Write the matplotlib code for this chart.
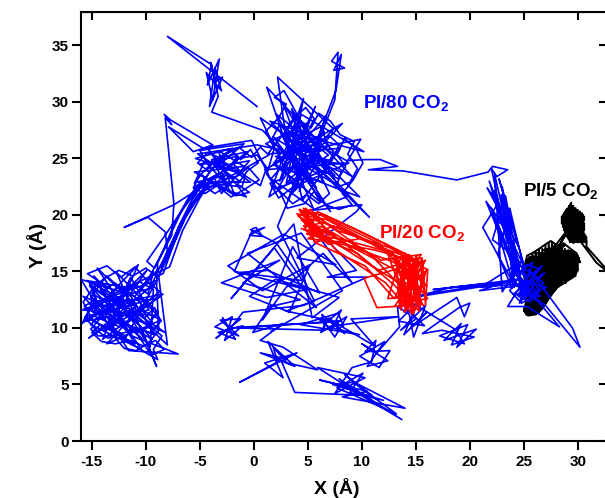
import matplotlib
matplotlib.use("Agg")
import matplotlib.pyplot as plt
import numpy as np

plt.rcParams["font.family"] = ["Liberation Sans", "DejaVu Sans"]
plt.rcParams["font.weight"] = "bold"
plt.rcParams["axes.unicode_minus"] = False
plt.rcParams["mathtext.fontset"] = "custom"
plt.rcParams["mathtext.rm"] = "Liberation Sans:bold"
plt.rcParams["mathtext.bf"] = "Liberation Sans:bold"
plt.rcParams["mathtext.default"] = "bf"

# ---------------------------------------------------------------------------
# CO2 centre-of-mass trajectories (x, y in Angstrom), one path per loading
# ---------------------------------------------------------------------------

# PI/80 CO2 -- long diffusive walk, stored leg by leg in visiting order
PI80_START = [(0.3, 29.6), (-8.0, 35.8), (-3.9, 33.3), (-4.3, 31.5), (-3.2, 33.8), (-3.8, 30.2),
              (-4.4, 32.6), (-3.0, 31.0), (-3.6, 33.0), (-4.1, 29.6), (-2.9, 32.2), (-3.5, 31.8),
              (-4.0, 33.5), (-3.3, 30.5), (-3.9, 29.1), (0.8, 27.5)]
PI80_TOP_A = [(5.8, 22.4), (2.1, 28.9), (6.9, 25.3), (1.4, 21.6), (4.6, 30.3), (3.0, 22.8), (8.2, 28.1),
              (1.9, 24.6), (6.2, 21.1), (2.5, 27.2), (9.1, 23.4), (1.2, 31.3), (3.8, 24.0), (7.4, 27.6),
              (2.2, 32.2), (3.1, 26.0), (5.5, 20.6), (1.6, 23.2), (6.7, 28.8), (4.2, 22.1), (7.5, 30.2),
              (7.8, 34.4), (7.2, 33.6), (8.4, 33.0), (7.4, 32.8), (8.1, 34.2), (7.6, 31.0), (6.0, 27.0),
              (2.8, 25.1), (5.1, 28.2), (1.1, 26.3), (7.8, 22.6), (3.5, 29.4), (4.9, 23.5)]
PI80_TOP_WALK_1 = [(3.4, 21.8), (4.6, 22.9), (3.9, 24.2), (5.2, 23.6), (6.1, 24.9), (5.0, 26.0), (6.3, 26.7),
                   (7.4, 25.6), (6.8, 24.3), (8.1, 23.8), (7.6, 22.4), (8.9, 22.9), (9.6, 24.1), (8.7, 25.4),
                   (9.3, 26.5), (8.0, 27.1), (7.1, 28.3), (6.0, 29.0), (5.3, 27.7), (4.2, 28.4), (3.3, 27.1),
                   (2.4, 28.0), (1.6, 26.6), (2.7, 25.7), (1.8, 24.5), (3.0, 23.6), (2.2, 22.3), (3.6, 21.0),
                   (4.9, 21.8), (6.0, 21.0), (7.0, 21.9), (6.4, 23.1), (5.5, 24.4), (4.4, 25.2), (3.5, 26.2),
                   (4.6, 27.0), (5.8, 26.4), (7.0, 27.0), (7.9, 26.2), (7.2, 24.8)]
PI80_UL_A = [(0.3, 26.2), (-5.2, 25.4), (-1.3, 23.0), (-4.8, 22.4), (-0.6, 25.6), (-3.9, 24.9),
             (-2.2, 22.1), (-5.5, 23.8), (-0.9, 24.3), (-3.3, 25.7), (-1.8, 21.8), (-4.6, 23.3)]
PI80_BAND_A = [(-4.5, 22.5), (-6.3, 19.8), (-7.9, 16.4), (-9.0, 14.2)]
PI80_LEFT_A = [(-10.2, 13.8), (-15.2, 12.1), (-9.4, 9.0), (-14.8, 14.6), (-11.0, 8.6), (-15.6, 11.0),
               (-8.8, 12.7), (-13.9, 9.7), (-9.9, 15.1), (-15.1, 10.3), (-10.4, 8.1), (-14.2, 13.4),
               (-8.2, 9.6), (-15.8, 12.8), (-12.0, 8.9), (-9.1, 14.0), (-15.3, 9.1), (-10.8, 11.9),
               (-14.5, 15.3), (-9.6, 8.3)]
PI80_LEFT_WALK_1 = [(-9.3, 13.4), (-10.6, 14.1), (-11.8, 13.2), (-12.9, 14.0), (-14.1, 13.1), (-15.2, 13.9),
                    (-14.6, 12.6), (-15.7, 11.9), (-14.4, 11.2), (-13.3, 11.9), (-12.2, 11.0), (-11.1, 11.8),
                    (-10.1, 10.9), (-9.2, 11.8), (-8.6, 10.6), (-9.6, 9.6), (-10.8, 10.0), (-11.9, 9.3),
                    (-13.1, 9.9), (-14.2, 10.3), (-15.0, 9.6), (-14.1, 8.8), (-12.8, 8.6), (-11.5, 8.9),
                    (-10.2, 8.4), (-9.1, 8.9), (-8.3, 8.1), (-9.5, 7.6), (-10.6, 9.2), (-11.7, 10.4),
                    (-12.9, 10.9), (-14.0, 11.9), (-15.1, 12.7), (-13.8, 14.4), (-12.5, 15.1), (-11.2, 14.6),
                    (-10.0, 15.3), (-9.0, 14.6)]
PI80_BAND_B = [(-8.4, 14.8), (-7.2, 18.0), (-5.9, 20.8), (-4.2, 22.9)]
PI80_UL_B = [(-0.3, 22.9), (-2.9, 24.6), (-5.0, 24.5), (-1.5, 25.2), (-3.6, 22.6), (-0.7, 21.6),
             (-4.2, 25.8), (-2.5, 23.5), (-5.3, 22.9), (-1.1, 22.5)]
PI80_UL_WALK = [(-0.8, 23.4), (-1.9, 24.5), (-3.0, 23.8), (-2.4, 22.6), (-3.6, 21.9), (-4.8, 22.7),
                (-4.1, 23.8), (-5.2, 24.6), (-4.3, 25.5), (-3.2, 25.1), (-2.1, 25.7), (-1.2, 24.9),
                (-0.3, 25.8), (0.4, 24.6), (-0.6, 23.9), (-1.5, 22.7), (-0.4, 22.0), (-1.7, 21.7),
                (-2.8, 22.4), (-3.9, 22.9), (-4.9, 23.6), (-5.5, 22.8), (-4.6, 24.7), (-3.4, 24.4),
                (-2.5, 25.4), (-1.4, 26.0), (-0.2, 25.1), (0.6, 26.0), (1.4, 25.3), (-2.6, 23.2)]
PI80_BAND_C = [(-5.2, 21.8), (-6.8, 19.2), (-8.6, 15.6), (-9.6, 13.5)]
PI80_LEFT_B = [(-13.0, 12.6), (-15.9, 11.6), (-8.9, 11.1), (-12.7, 14.9), (-9.0, 6.6), (-10.5, 10.2),
               (-15.0, 13.1), (-11.6, 8.0), (-7.0, 7.7), (-11.3, 9.3), (-14.6, 12.4), (-9.8, 12.5),
               (-13.6, 8.6), (-8.6, 10.7), (-15.5, 14.2), (-11.9, 13.6), (-9.2, 9.4), (-14.9, 11.4),
               (-10.7, 15.6), (-13.3, 10.1)]
PI80_LEFT_WALK_2 = [(-10.9, 12.6), (-12.1, 12.0), (-13.4, 12.7), (-12.6, 13.6), (-11.4, 13.1), (-10.4, 12.1),
                    (-11.3, 10.7), (-12.4, 10.1), (-13.7, 10.6), (-14.9, 11.1), (-15.9, 10.4), (-15.3, 11.5),
                    (-14.0, 12.2), (-13.0, 13.3), (-14.3, 14.1), (-15.4, 14.8), (-13.6, 15.5), (-12.3, 14.5),
                    (-11.0, 15.4), (-9.8, 14.1), (-8.7, 13.2), (-9.9, 12.3), (-8.9, 11.4), (-9.8, 10.3),
                    (-8.5, 9.3), (-9.3, 8.1), (-8.9, 7.2), (-10.0, 7.8), (-11.1, 8.5), (-12.4, 9.4),
                    (-13.5, 9.1), (-14.6, 9.8), (-15.6, 10.9), (-14.9, 12.1)]
PI80_BAND_D = [(-7.8, 15.4), (-6.6, 18.6), (-5.0, 21.5), (-3.7, 23.4)]
PI80_UL_C = [(-3.0, 21.9), (-0.4, 24.8), (-4.4, 24.1), (-2.0, 25.9), (-5.4, 25.0), (-1.6, 23.8), (-3.4, 24.3)]
PI80_UL_WALK_2 = [(-0.9, 26.3), (-2.3, 26.1), (-3.7, 25.9), (-5.0, 25.7), (-4.2, 24.4), (-2.9, 23.1),
                  (-1.6, 23.4), (-0.5, 24.2), (0.5, 23.1), (-0.8, 22.3), (-2.1, 21.6), (-3.4, 22.6),
                  (-4.5, 21.9), (-5.6, 22.4), (-5.0, 23.5), (-3.8, 24.6), (-2.6, 24.0), (-1.4, 25.0),
                  (0.3, 25.3), (1.2, 24.2), (0.6, 22.6), (-3.1, 24.9)]
PI80_BAND_E = [(-5.6, 22.0), (-7.4, 20.9), (-12.0, 18.9), (-9.8, 19.8), (-8.2, 18.5), (-8.0, 16.8), (-8.8, 14.5)]
PI80_LEFT_C = [(-8.0, 8.5), (-12.2, 12.3), (-15.7, 10.6), (-9.7, 11.6), (-11.4, 14.5), (-14.0, 9.0),
               (-8.4, 13.0), (-13.8, 12.0), (-10.3, 9.0), (-15.2, 13.7), (-9.5, 10.1), (-12.9, 9.4),
               (-16.0, 14.3), (-11.0, 12.8), (-9.3, 15.0)]
PI80_LEFT_WALK_3 = [(-9.8, 13.0), (-11.0, 13.9), (-12.4, 13.5), (-13.6, 14.6), (-14.9, 13.5), (-15.8, 12.3),
                    (-15.0, 10.8), (-13.9, 10.1), (-12.6, 10.6), (-11.6, 9.7), (-10.4, 9.6), (-9.4, 10.5),
                    (-10.3, 11.5), (-11.7, 11.5), (-12.9, 12.1), (-13.9, 11.2), (-15.1, 9.9), (-14.4, 9.3),
                    (-13.0, 9.3), (-12.0, 8.2), (-10.9, 8.0), (-9.7, 8.7), (-8.8, 9.8), (-9.0, 13.9)]
PI80_BAND_G = [(-8.9, 15.8), (-7.9, 17.9), (-6.7, 20.3), (-5.3, 22.6), (-3.2, 23.7), (-6.0, 21.6),
               (-7.3, 19.4), (-8.3, 17.0), (-9.5, 14.8), (-10.6, 13.2), (-8.1, 16.1), (-7.0, 18.9),
               (-5.8, 21.2), (-4.6, 23.0), (-6.5, 20.6), (-8.0, 18.5), (-9.9, 15.9)]
PI80_BAND_F = [(-9.2, 15.3), (-7.6, 18.2), (-7.4, 21.0), (-8.2, 28.6), (-7.6, 28.0), (-8.3, 28.9),
               (-7.7, 28.4), (-3.8, 26.2), (-5.6, 25.6), (-7.9, 27.8), (-4.7, 25.9), (-0.2, 26.6)]
PI80_TOP_B = [(2.0, 22.3), (7.0, 24.1), (4.1, 27.0), (9.8, 21.6), (2.6, 24.2), (6.4, 22.9), (3.9, 28.6),
              (1.3, 25.4), (8.0, 25.9), (4.5, 21.3), (2.9, 27.8), (10.7, 19.8), (5.3, 24.8), (1.8, 26.9),
              (7.1, 20.3), (3.6, 25.5), (9.9, 26.7), (8.5, 24.5)]
PI80_TOP_WALK_2 = [(2.0, 25.2), (3.1, 24.6), (2.6, 23.2), (1.5, 22.8), (2.3, 21.5), (3.8, 22.6), (4.3, 24.0),
                   (3.2, 25.4), (4.1, 26.5), (2.9, 27.4), (3.7, 28.6), (4.8, 29.5), (5.6, 28.5), (4.9, 27.2),
                   (6.2, 27.8), (6.9, 26.1), (5.9, 25.5), (6.7, 23.8), (7.8, 23.2), (8.5, 24.3), (7.7, 25.3),
                   (8.4, 26.8), (9.5, 25.8), (10.1, 24.6), (9.2, 23.1), (8.2, 21.9), (9.1, 20.9), (7.9, 20.5),
                   (6.6, 20.9), (5.6, 22.1), (4.7, 21.0), (3.1, 20.6), (2.5, 21.9), (1.2, 23.6), (1.9, 25.9),
                   (1.1, 27.4), (2.3, 28.6), (3.0, 29.8), (1.9, 30.4), (2.8, 31.0), (5.4, 26.5), (8.6, 24.8)]
PI80_RIGHT_RUN = [(10.3, 24.9), (11.7, 24.9), (13.3, 24.3), (10.6, 24.0), (13.8, 23.9), (18.8, 23.1),
                  (21.7, 23.8), (22.1, 24.3), (23.5, 24.0), (22.5, 23.4), (22.0, 24.1)]
PI80_COLUMN = [(22.8, 20.5), (21.8, 23.0), (23.5, 17.5), (22.3, 22.2), (24.6, 15.0), (22.6, 21.0),
               (21.2, 18.9), (24.0, 14.0), (23.0, 22.5), (23.8, 18.5), (22.4, 19.6), (24.9, 13.3),
               (23.3, 21.7), (22.1, 17.8), (24.4, 16.2), (22.9, 19.4), (25.2, 14.5), (23.7, 20.6),
               (22.6, 16.5), (23.9, 13.5)]
PI80_RC = [(24.2, 15.6), (26.5, 12.8), (24.0, 13.0), (26.9, 14.9), (24.6, 12.2), (25.8, 15.8),
           (23.8, 14.4), (27.1, 13.6), (24.9, 12.6), (25.5, 15.2), (29.5, 10.0), (30.2, 8.3),
           (27.0, 12.0), (24.3, 13.8), (26.2, 12.4), (25.9, 13.2), (24.1, 14.9), (28.3, 10.1),
           (25.3, 11.9), (23.5, 11.9), (25.0, 14.2), (26.7, 15.5), (24.4, 12.9), (25.7, 14.0),
           (21.0, 13.6), (24.8, 15.9), (23.0, 13.2)]
PI80_COLUMN_2 = [(22.3, 23.6), (24.2, 15.6), (22.9, 21.8), (24.7, 14.3), (22.0, 20.6), (24.1, 13.6),
                 (23.6, 19.8), (21.6, 22.4), (24.5, 17.2), (22.7, 23.2), (25.1, 15.3), (23.2, 19.0),
                 (21.5, 21.2), (24.3, 14.8)]
PI80_RC_WALK = [(24.6, 14.6), (25.4, 13.6), (24.5, 12.8), (25.6, 12.3), (26.4, 13.3), (25.7, 14.4),
                (26.5, 15.2), (25.3, 15.6), (24.3, 14.2), (23.7, 13.3), (24.8, 12.2), (25.9, 12.8),
                (26.8, 14.0), (25.6, 14.9), (24.7, 15.5), (23.9, 14.6), (24.6, 13.5), (25.5, 12.9)]
PI80_H_RUN = [(25.0, 13.8), (20.9, 13.3), (23.7, 14.2), (16.6, 13.4), (24.0, 14.1), (14.7, 12.7),
              (18.3, 13.6), (22.5, 14.0), (15.5, 12.9)]
PI80_C15_A = [(14.0, 11.8), (15.8, 10.2), (13.4, 10.6), (15.2, 12.3), (13.9, 9.4), (16.0, 11.4),
              (14.5, 10.0), (18.8, 12.7), (19.5, 11.0), (20.0, 12.2), (19.0, 11.8), (15.6, 9.5)]
PI80_C19 = [(17.4, 9.8), (20.4, 9.2), (18.3, 8.5), (19.2, 10.4), (17.6, 8.9), (20.6, 9.9), (18.8, 8.3),
            (19.8, 10.3), (17.2, 9.3), (19.5, 8.6), (18.6, 9.9)]
PI80_C15_B = [(14.2, 12.5), (15.0, 10.8), (13.6, 9.8), (15.9, 12.0), (14.8, 9.2), (14.4, 11.2),
              (13.3, 11.9), (13.5, 10.1)]
PI80_C11 = [(11.4, 7.8), (10.0, 8.6), (12.4, 7.1), (10.5, 6.6), (12.1, 8.8), (9.8, 7.5), (11.6, 6.5),
            (12.6, 8.0), (10.3, 7.9), (11.3, 8.9), (10.9, 7.0)]
PI80_C9 = [(9.1, 6.5), (7.5, 4.2), (10.3, 5.6), (5.9, 6.5), (9.8, 4.1), (7.9, 5.5), (13.7, 1.9),
           (8.6, 4.8), (6.1, 5.4), (10.5, 4.4), (8.2, 3.9), (14.0, 2.9), (9.3, 5.2), (7.3, 5.0),
           (12.0, 3.6), (8.9, 4.3), (10.1, 6.0), (7.7, 4.7), (13.2, 2.4), (9.6, 4.9), (8.4, 5.9),
           (11.0, 4.0)]
PI80_C2 = [(3.8, 4.3), (2.4, 7.4), (0.6, 7.8), (3.8, 6.6), (1.3, 8.8), (2.7, 5.6), (1.0, 6.9),
           (4.0, 7.8), (-1.3, 5.2), (2.2, 7.0), (1.8, 8.3), (3.1, 6.9), (5.9, 6.3), (2.7, 8.3)]
PI80_NET_A = [(0.6, 8.9), (2.7, 10.4), (-0.1, 9.6), (1.5, 11.9), (4.3, 12.5), (-1.0, 14.0), (2.4, 16.0),
              (-3.0, 14.0), (1.2, 12.7), (4.9, 13.4), (-1.8, 15.0)]
PI80_STAR18 = [(-0.2, 18.5), (1.0, 18.9), (-0.4, 18.2), (0.8, 18.1), (0.2, 18.9), (-0.3, 18.7)]
PI80_NET_B = [(2.1, 17.5), (4.5, 14.2), (-1.5, 14.9), (1.3, 15.1), (6.1, 13.1), (3.6, 17.2), (0.8, 10.7),
              (3.0, 13.6), (6.4, 16.6), (9.1, 14.0), (4.9, 19.6), (9.5, 15.1), (6.8, 14.5), (10.5, 14.5),
              (4.6, 12.0), (-1.0, 11.4)]
PI80_CM2 = [(-1.9, 10.3), (-3.5, 9.1), (-1.2, 10.8), (-3.1, 10.7), (-1.4, 9.3), (-3.6, 10.1),
            (-2.0, 11.0), (-2.7, 8.9), (-1.0, 10.2), (-3.3, 9.6), (-1.7, 9.0), (-2.9, 10.9), (-2.3, 10.0)]
PI80_H_MID = [(8.0, 10.6), (-1.5, 10.0), (6.6, 9.8)]
PI80_C7 = [(6.3, 11.2), (8.4, 9.5), (7.0, 10.9), (6.2, 9.6), (8.6, 11.0), (7.5, 9.2), (6.6, 10.4),
           (8.1, 11.6), (7.2, 9.9), (6.0, 10.8), (8.3, 10.2), (7.8, 11.3), (4.3, 10.3), (9.8, 9.4),
           (6.9, 10.1)]
PI80_LINK = [(13.4, 11.0), (9.0, 10.8), (11.2, 8.4), (7.3, 10.6), (3.0, 11.5), (5.6, 12.4), (2.2, 19.0),
             (3.4, 21.8)]
PI80_TOP_C = [(6.5, 27.4), (3.2, 21.4), (5.0, 26.1), (1.0, 24.0), (8.8, 24.6), (3.7, 22.5), (0.6, 28.6),
              (5.9, 25.0), (2.7, 29.9), (4.8, 24.4), (7.5, 23.5), (3.4, 27.3), (10.2, 25.6), (4.4, 28.9),
              (2.4, 23.0), (5.7, 29.6), (3.3, 23.7), (6.0, 26.8), (1.5, 28.3), (8.6, 21.6), (5.3, 20.4),
              (10.0, 20.9)]
PI80_NET_C = [(9.5, 20.3), (4.0, 16.2), (7.6, 15.6), (2.8, 18.3), (-2.4, 15.5), (0.8, 13.3), (5.2, 15.6),
              (3.3, 11.4), (-0.4, 12.8), (2.0, 14.3), (7.9, 12.7), (5.4, 10.9), (3.7, 19.2), (-2.1, 12.6),
              (1.9, 17.1), (5.8, 11.8), (-0.6, 16.6), (4.4, 18.4), (8.2, 13.3), (1.6, 9.7)]

PI80_LEGS = [PI80_START, PI80_TOP_A, PI80_TOP_WALK_1, PI80_UL_A, PI80_BAND_A, PI80_LEFT_A,
             PI80_LEFT_WALK_1, PI80_BAND_B, PI80_UL_B, PI80_UL_WALK, PI80_BAND_C, PI80_LEFT_B,
             PI80_LEFT_WALK_2, PI80_BAND_D, PI80_UL_C, PI80_UL_WALK_2, PI80_BAND_E, PI80_LEFT_C,
             PI80_LEFT_WALK_3, PI80_BAND_G, PI80_BAND_F, PI80_TOP_B, PI80_TOP_WALK_2, PI80_RIGHT_RUN,
             PI80_COLUMN, PI80_RC, PI80_COLUMN_2, PI80_RC_WALK, PI80_H_RUN, PI80_C15_A, PI80_C19,
             PI80_C15_B, PI80_C11, PI80_C9, PI80_C2, PI80_NET_A, PI80_STAR18, PI80_NET_B, PI80_CM2,
             PI80_H_MID, PI80_C7, PI80_LINK, PI80_TOP_C, PI80_NET_C]

# PI/20 CO2 -- shuttles between the pocket near (5, 19) and the block near (14.5, 14)
PI20_SHUTTLE = [
    (4.3, 20.3), (5.6, 19.0), (4.6, 20.6), (6.0, 18.1), (5.1, 19.7), (8.7, 18.6), (13.1, 16.3), (15.5, 12.4),
    (14.0, 16.6), (13.6, 11.6), (15.3, 15.8), (11.2, 16.9), (6.4, 17.7), (4.9, 20.1), (5.5, 18.6), (4.4, 19.6),
    (6.9, 17.4), (9.8, 17.9), (14.6, 16.1), (15.9, 13.0), (13.3, 14.4), (14.8, 11.3), (16.0, 15.2), (12.6, 17.1),
    (7.8, 18.6), (5.0, 20.4), (6.2, 19.3), (4.7, 18.9), (5.8, 17.5), (10.3, 15.5), (13.0, 12.6), (15.1, 16.4),
    (14.3, 11.8), (15.7, 14.1), (12.8, 15.9), (9.0, 17.2), (4.1, 19.9), (5.3, 20.5), (7.0, 18.2), (4.8, 19.2),
    (6.5, 18.9), (11.5, 15.1), (15.6, 16.2), (13.7, 12.2), (16.1, 12.6), (13.9, 15.4), (10.2, 14.4),
    (11.4, 11.8), (14.5, 12.0), (15.2, 13.6), (11.6, 17.5), (5.7, 20.2), (4.5, 20.0), (6.6, 17.8), (5.2, 18.3),
    (7.4, 19.0), (12.9, 16.6), (14.9, 11.6), (15.8, 15.0), (13.4, 13.0), (14.2, 16.3), (15.4, 11.9),
    (10.9, 16.4), (5.9, 19.8), (4.2, 20.5), (6.1, 18.5), (5.0, 17.9), (8.2, 17.6), (13.8, 14.8), (15.9, 16.0),
    (14.1, 12.9), (15.0, 14.9), (13.2, 15.7), (14.7, 11.2), (12.2, 14.0), (7.6, 16.9), (5.4, 19.4),
    (4.6, 19.0), (6.3, 20.1), (9.3, 18.8), (14.4, 16.4), (13.5, 13.3), (15.7, 12.0), (14.0, 14.6),
    (15.5, 16.5), (11.8, 16.0), (6.8, 18.7), (4.8, 20.6), (5.6, 17.6), (7.2, 17.9), (4.4, 18.8), (9.6, 16.6),
    (13.0, 13.8), (15.3, 11.5), (14.6, 15.5), (16.0, 13.7), (13.6, 16.2), (12.4, 12.6), (15.1, 12.8),
    (13.9, 11.4), (14.8, 13.9)]
PI20_BLOCK = [(13.2, 16.2), (13.5, 11.8), (13.8, 16.4), (14.1, 11.5), (14.4, 16.5), (14.7, 11.3),
              (15.0, 16.3), (15.3, 11.6), (15.6, 16.0), (15.9, 12.0), (16.1, 15.2)]
PI20_RETURN = [(14.3, 13.5), (9.9, 16.1), (5.3, 18.9), (4.0, 20.1), (6.7, 19.6), (10.8, 17.6), (15.0, 15.4),
               (14.2, 11.9), (12.3, 16.8), (7.9, 17.9), (4.9, 18.3), (5.9, 20.3), (11.0, 18.0), (15.7, 15.7),
               (13.1, 12.0)]

# PI/5 CO2 -- confined to two neighbouring pockets
PI5_MAIN_ROWS = [(27.6, 17.2), (28.8, 17.3), (26.8, 16.9), (29.4, 16.8), (26.0, 16.6), (29.8, 16.5),
                 (25.6, 16.3), (30.1, 16.2), (25.4, 16.0), (29.9, 15.9), (25.3, 15.7), (29.8, 15.5),
                 (25.3, 15.4), (29.9, 15.2), (25.2, 15.1), (29.7, 14.9), (25.2, 14.8), (29.8, 14.6),
                 (25.3, 14.5), (29.2, 14.4), (25.4, 14.2), (28.9, 14.0), (25.5, 13.9), (28.4, 13.8),
                 (25.6, 13.6), (28.0, 13.5), (25.6, 13.3), (27.7, 13.2), (25.6, 13.0), (27.5, 12.9),
                 (25.5, 12.7), (27.3, 12.6), (25.4, 12.4), (27.1, 12.3), (25.3, 12.1), (26.9, 12.0),
                 (25.1, 11.8), (26.7, 11.7), (25.0, 11.5), (26.4, 11.4), (25.2, 11.2), (26.0, 11.3)]
PI5_MAIN_ROWS_B = [(27.9, 17.05), (28.6, 17.1), (27.2, 16.75), (29.6, 16.65), (26.4, 16.45), (30.0, 16.35),
                   (25.5, 16.15), (30.0, 16.05), (25.3, 15.85), (29.9, 15.75), (25.2, 15.55), (29.9, 15.35),
                   (25.2, 15.25), (29.8, 15.05), (25.1, 14.95), (29.8, 14.75), (25.2, 14.65), (29.5, 14.55),
                   (25.3, 14.35), (29.0, 14.25), (25.4, 14.05), (28.7, 13.95), (25.5, 13.75), (28.2, 13.65),
                   (25.5, 13.45), (27.9, 13.35), (25.6, 13.15), (27.6, 13.05), (25.5, 12.85), (27.4, 12.75),
                   (25.4, 12.55), (27.2, 12.45), (25.3, 12.25), (27.0, 12.15), (25.2, 11.95), (26.8, 11.85),
                   (25.0, 11.65), (26.5, 11.55), (25.1, 11.35)]
PI5_MAIN_COLS = [(25.2, 11.4), (25.3, 16.1), (25.5, 11.2), (25.5, 16.3), (25.8, 11.3), (25.8, 16.5),
                 (26.1, 11.3), (26.1, 16.7), (26.4, 11.6), (26.4, 16.9), (26.7, 12.0), (26.7, 17.0),
                 (27.0, 12.3), (27.0, 17.3), (27.3, 12.8), (27.3, 17.5), (27.6, 13.2), (27.6, 17.6),
                 (27.9, 13.4), (27.9, 17.4), (28.2, 13.7), (28.2, 17.3), (28.5, 13.9), (28.5, 17.2),
                 (28.8, 14.1), (28.8, 17.0), (29.1, 14.3), (29.1, 16.9), (29.4, 14.5), (29.4, 16.7),
                 (29.7, 14.6), (29.7, 16.5), (30.0, 15.2), (30.0, 16.3)]
PI5_MAIN_EDGE = [(30.2, 15.8), (29.9, 16.6), (29.2, 17.1), (28.7, 17.5), (28.1, 17.3), (27.5, 17.7),
                 (27.0, 17.4), (26.4, 17.0), (25.9, 16.7), (25.3, 16.4), (25.1, 15.6), (25.0, 14.7),
                 (25.2, 13.6), (25.3, 12.6), (25.0, 11.6), (25.4, 11.1), (26.1, 11.2), (26.5, 11.5),
                 (26.9, 12.0), (27.3, 12.6), (27.7, 13.1), (28.1, 13.6), (28.9, 14.1), (29.6, 14.5),
                 (30.0, 15.1)]
PI5_HOP = [(27.6, 16.9), (29.3, 19.0), (28.0, 16.8), (29.1, 18.7)]
PI5_UPPER = [(29.4, 21.1), (29.1, 20.6), (29.8, 20.6), (28.8, 20.3), (30.2, 20.3), (28.6, 20.0),
             (30.5, 20.0), (28.5, 19.7), (30.6, 19.7), (28.5, 19.4), (30.5, 19.4), (28.6, 19.1),
             (30.6, 19.1), (28.7, 18.8), (30.6, 18.8), (28.8, 18.5), (30.5, 18.5), (28.9, 18.2),
             (30.7, 18.2), (29.1, 17.9), (30.8, 17.9), (29.3, 17.6), (30.8, 17.6), (29.0, 18.2),
             (29.0, 20.5), (29.3, 17.6), (29.3, 20.9), (29.6, 17.5), (29.6, 20.6), (29.9, 17.7),
             (29.9, 20.2), (30.2, 17.8), (30.2, 19.9), (30.5, 18.0), (30.5, 19.6)]
PI5_UPPER_B = [(29.2, 20.8), (29.6, 20.8), (28.9, 20.45), (30.0, 20.45), (28.7, 20.15), (30.4, 20.15),
               (28.5, 19.85), (30.6, 19.85), (28.5, 19.55), (30.6, 19.55), (28.5, 19.25), (30.6, 19.25),
               (28.6, 18.95), (30.6, 18.95), (28.7, 18.65), (30.6, 18.65), (28.8, 18.35), (30.6, 18.35),
               (29.0, 18.05), (30.8, 18.05), (29.2, 17.75), (30.8, 17.75)]
PI5_EXIT = [(30.8, 17.2), (33.2, 14.6), (31.7, 15.8), (29.9, 18.1)]


def path(*legs):
    pts = np.array([p for leg in legs for p in leg], dtype=float)
    return pts[:, 0], pts[:, 1]


fig = plt.figure(figsize=(6.05, 4.98), dpi=100)
ax = fig.add_axes([81 / 605, 57 / 498, 526 / 605, 429 / 498])

x5, y5 = path(PI5_MAIN_ROWS, PI5_MAIN_ROWS_B, PI5_MAIN_COLS, PI5_MAIN_EDGE, PI5_HOP,
              PI5_UPPER, PI5_UPPER_B, PI5_EXIT)
x80, y80 = path(*PI80_LEGS)
x20, y20 = path(PI20_SHUTTLE, PI20_BLOCK, PI20_RETURN)

ax.plot(x5, y5, color="black", lw=1.4, zorder=2)
ax.plot(x80, y80, color="#0000ff", lw=1.2, zorder=3)
ax.plot(x20, y20, color="#ff0000", lw=1.2, zorder=4)

ax.text(10.1, 29.5, "PI/80 CO$_2$", color="#0000ff", fontsize=13.5, fontweight="bold", va="baseline")
ax.text(11.6, 18.0, "PI/20 CO$_2$", color="#ff0000", fontsize=13.5, fontweight="bold", va="baseline")
ax.text(24.9, 21.7, "PI/5 CO$_2$", color="black", fontsize=13.5, fontweight="bold", va="baseline")

ax.set_xlim(-16.0, 32.7)
ax.set_ylim(0, 37.96)
ax.set_xticks(np.arange(-15, 31, 5))
ax.set_yticks(np.arange(0, 36, 5))
ax.tick_params(axis="x", direction="out", length=6.5, width=1.5, labelsize=11, pad=3.5)
ax.tick_params(axis="y", direction="out", length=6.5, width=1.5, labelsize=11, pad=2.5)
for s in ax.spines.values():
    s.set_linewidth(1.5)

# inward ticks on the top and right frame
top = ax.secondary_xaxis("top")
top.set_xticks(np.arange(-15, 31, 5))
top.tick_params(direction="in", length=6, width=1.5, labeltop=False)
right = ax.secondary_yaxis("right")
right.set_yticks(np.arange(0, 36, 5))
right.tick_params(direction="in", length=6, width=1.5, labelright=False)

ax.set_xlabel("X (Å)", fontsize=14, fontweight="bold")
ax.set_ylabel("Y (Å)", fontsize=14, fontweight="bold")
ax.xaxis.label.set_va("center")
ax.yaxis.label.set_va("center")
ax.xaxis.set_label_coords(0.487, -0.11)
ax.yaxis.set_label_coords(-0.084, 0.457)

fig.savefig("out.png", dpi=100)
